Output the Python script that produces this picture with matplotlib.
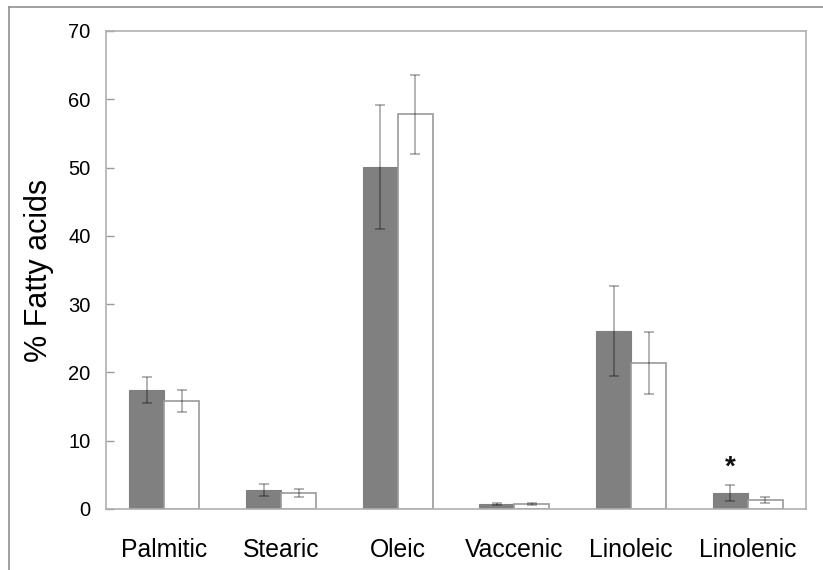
import matplotlib
matplotlib.use("Agg")
import matplotlib.pyplot as plt
import numpy as np
from matplotlib.lines import Line2D

plt.rcParams['font.family'] = ['Liberation Sans', 'DejaVu Sans']

categories = ["Palmitic", "Stearic", "Oleic", "Vaccenic", "Linoleic", "Linolenic"]
group1_mean = [17.4, 2.8, 50.1, 0.7, 26.1, 2.3]
group1_err = [1.9, 0.9, 9.1, 0.15, 6.6, 1.2]
group2_mean = [15.8, 2.3, 57.8, 0.7, 21.4, 1.3]
group2_err = [1.6, 0.6, 5.8, 0.15, 4.5, 0.4]
star_category = "Linolenic"
yticks = [0, 10, 20, 30, 40, 50, 60, 70]

fig = plt.figure(figsize=(8.23, 5.70), dpi=100)
ax = fig.add_axes([106/823, 1-509/570, 700/823, 478/570])

x = np.arange(len(categories))
w = 0.3
edge = "#9a9a9a"
ecol = (0, 0, 0, 0.32)
ax.bar(x - w/2, group1_mean, w, color="#808080", edgecolor="#808080", linewidth=0.8, zorder=2)
ax.bar(x + w/2, group2_mean, w, color="white", edgecolor=edge, linewidth=1.2, zorder=2)
ax.errorbar(x - w/2, group1_mean, yerr=group1_err, fmt="none", ecolor=ecol,
            elinewidth=1.3, capsize=3.8, capthick=1.3, zorder=3)
ax.errorbar(x + w/2, group2_mean, yerr=group2_err, fmt="none", ecolor=ecol,
            elinewidth=1.3, capsize=3.8, capthick=1.3, zorder=3)

si = categories.index(star_category)
ax.text(si - w/2, group1_mean[si] + group1_err[si] + 0.7, "*", ha="center", va="bottom",
        fontsize=20, fontweight="bold", color="#111111")

ax.set_xlim(-0.5, len(categories) - 0.5)
ax.set_ylim(0, 70)
ax.set_yticks(yticks)
ax.set_xticks(x)
ax.set_xticklabels(categories, fontsize=17.8)
ax.tick_params(axis="y", direction="in", length=6, width=1, color="#9a9a9a",
               labelsize=14.5, pad=11)
ax.tick_params(axis="x", length=0, pad=21)
for s in ax.spines.values():
    s.set_color("#b0b0b0")
    s.set_linewidth(1.2)
ax.set_ylabel("% Fatty acids", fontsize=22)
ax.yaxis.set_label_coords(-0.074, 0.5)

# outer frame lines (top and left) of the original image
fig.add_artist(Line2D([9/823, 9/823], [0, 1-7/570], transform=fig.transFigure,
                      color="#909090", linewidth=1.2))
fig.add_artist(Line2D([9/823, 1], [1-7/570, 1-7/570], transform=fig.transFigure,
                      color="#909090", linewidth=1.2))

fig.savefig("out.png", dpi=100)
